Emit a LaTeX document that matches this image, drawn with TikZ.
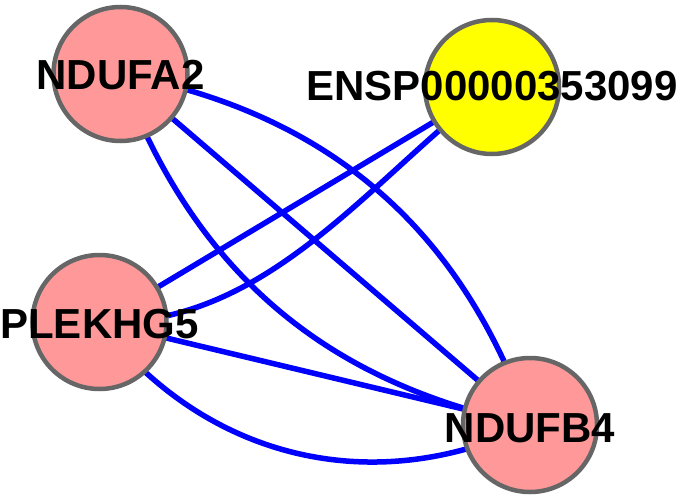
\documentclass[tikz,border=0pt]{standalone}
\usepackage{fontspec}
\setmainfont{Liberation Sans}
\usetikzlibrary{backgrounds}
\definecolor{nodepink}{HTML}{FF9999}
\definecolor{nodeyellow}{HTML}{FFFF00}
\definecolor{nodegray}{HTML}{666666}
\definecolor{edgeblue}{HTML}{0000FF}
\begin{document}
\begin{tikzpicture}[x=1pt,y=1pt,
  gene/.style={circle, draw=nodegray, line width=4.5pt, minimum size=134pt, inner sep=0pt, outer sep=0pt},
  lbl/.style={anchor=base, font=\fontsize{42}{50}\selectfont\bfseries, inner sep=0pt},
  edgeline/.style={draw=edgeblue, line width=5.5pt}]
\useasboundingbox (0,0) rectangle (679,499);
\node[gene, fill=nodepink]   (a2) at (120.5,425) {};
\node[gene, fill=nodeyellow] (en) at (492,412) {};
\node[gene, fill=nodepink]   (pk) at (99.5,177) {};
\node[gene, fill=nodepink]   (b4) at (530,74) {};
\begin{scope}[on background layer]
\draw[edgeline] (a2.center) to[bend left=30] (b4.center);
\draw[edgeline] (a2.center) -- (b4.center);
\draw[edgeline] (a2.center) to[bend right=29] (b4.center);
\draw[edgeline] (en.center) -- (pk.center);
\draw[edgeline] (en.center) .. controls (371.5,321.6) and (266.2,170.8) .. (pk.center);
\draw[edgeline] (pk.center) -- (b4.center);
\draw[edgeline] (pk.center) to[bend right=39] (b4.center);
\end{scope}
\node[lbl] (a2l) at (120.5,409) {NDUFA2};
\node[lbl] (enl) at (492,399) {ENSP00000353099};
\node[lbl] (pkl) at (99.5,161) {PLEKHG5};
\node[lbl] (b4l) at (530,57) {NDUFB4};
\end{tikzpicture}
\end{document}
